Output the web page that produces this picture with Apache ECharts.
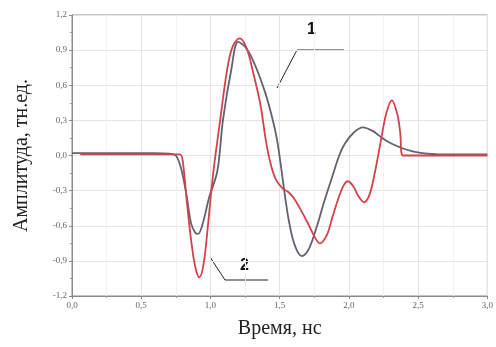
<!DOCTYPE html>
<html>
<head>
<meta charset="utf-8">
<script src="https://cdn.jsdelivr.net/npm/echarts@6/dist/echarts.min.js"></script>
<style>
  html, body { margin: 0; padding: 0; background: #fff; }
  #chart { width: 496px; height: 347px; }
</style>
</head>
<body>
<div id="chart"></div>
<script>
// curve 1 (gray)
const timeGray = [0.0, 0.3, 0.6, 0.7, 0.75, 0.79, 0.83, 0.86, 0.89, 0.91, 0.94, 0.99, 1.05, 1.09, 1.15, 1.20, 1.25, 1.30, 1.35, 1.40, 1.44, 1.48, 1.51, 1.54, 1.57, 1.61, 1.66, 1.71, 1.77, 1.82, 1.88, 1.93, 1.97, 2.03, 2.10, 2.17, 2.24, 2.31, 2.39, 2.46, 2.53, 2.65, 3.0];
const ampGray = [0.02, 0.02, 0.02, 0.015, 0.0, -0.12, -0.36, -0.58, -0.66, -0.67, -0.6, -0.36, -0.13, 0.30, 0.73, 0.97, 0.93, 0.83, 0.69, 0.52, 0.35, 0.14, -0.1, -0.36, -0.58, -0.77, -0.86, -0.8, -0.6, -0.4, -0.18, 0.0, 0.1, 0.19, 0.24, 0.21, 0.15, 0.1, 0.06, 0.035, 0.02, 0.01, 0.01];

// curve 2 (red)
const timeRed = [0.06, 0.3, 0.6, 0.78, 0.8, 0.83, 0.86, 0.89, 0.92, 0.95, 0.98, 1.02, 1.07, 1.12, 1.16, 1.21, 1.26, 1.31, 1.36, 1.40, 1.43, 1.47, 1.52, 1.56, 1.60, 1.65, 1.70, 1.75, 1.79, 1.84, 1.88, 1.92, 1.96, 1.99, 2.03, 2.07, 2.11, 2.15, 2.19, 2.23, 2.27, 2.31, 2.35, 2.37, 2.39, 2.45, 2.7, 3.0];
const ampRed = [0.01, 0.01, 0.01, 0.01, -0.05, -0.4, -0.72, -0.95, -1.04, -0.93, -0.62, -0.15, 0.30, 0.73, 0.93, 1.0, 0.92, 0.7, 0.44, 0.13, -0.05, -0.2, -0.28, -0.31, -0.36, -0.46, -0.57, -0.69, -0.75, -0.68, -0.53, -0.38, -0.26, -0.22, -0.26, -0.35, -0.40, -0.33, -0.13, 0.12, 0.36, 0.47, 0.35, 0.2, 0.0, 0.0, 0.0, 0.0];

const zip = (xs, ys) => xs.map((x, i) => [x, ys[i]]);
const fmt = v => v.toFixed(1).replace('.', ',').replace('-0,0', '0,0');

const chart = echarts.init(document.getElementById('chart'));

const tickLabel = {
  color: '#666',
  fontFamily: 'Liberation Serif',
  fontSize: 9,
  formatter: fmt
};

chart.setOption({
  animation: false,
  grid: {
    left: 72,
    right: 8,
    top: 15,
    bottom: 51,
    show: true,
    borderColor: '#8a8a8a',
    borderWidth: 1
  },
  xAxis: {
    type: 'value',
    min: 0,
    max: 3,
    interval: 0.5,
    name: 'Время, нс',
    nameLocation: 'middle',
    nameGap: 23,
    nameTextStyle: { fontFamily: 'Liberation Serif', fontSize: 20, color: '#222' },
    axisLine: { onZero: false, lineStyle: { color: '#8a8a8a' } },
    axisTick: { length: 3, lineStyle: { color: '#8a8a8a' } },
    minorTick: { show: true, splitNumber: 2, length: 2, lineStyle: { color: '#999' } },
    axisLabel: Object.assign({ margin: 5 }, tickLabel),
    splitLine: { show: true, lineStyle: { color: '#e4e4e4' } },
    minorSplitLine: { show: true, lineStyle: { color: '#f2f2f2' } }
  },
  yAxis: {
    type: 'value',
    min: -1.2,
    max: 1.2,
    interval: 0.3,
    name: 'Амплитуда, тн.ед.',
    nameLocation: 'middle',
    nameGap: 40,
    nameTextStyle: { fontFamily: 'Liberation Serif', fontSize: 20, color: '#222' },
    axisLine: { onZero: false, lineStyle: { color: '#8a8a8a' } },
    axisTick: { length: 3, lineStyle: { color: '#8a8a8a' } },
    minorTick: { show: true, splitNumber: 2, length: 2, lineStyle: { color: '#999' } },
    axisLabel: Object.assign({ margin: 5 }, tickLabel),
    splitLine: { show: true, lineStyle: { color: '#e4e4e4' } },
    minorSplitLine: { show: false }
  },
  series: [
    {
      name: '1',
      type: 'line',
      data: zip(timeGray, ampGray),
      smooth: 0.35,
      showSymbol: false,
      lineStyle: { color: '#5f6270', width: 1.8 }
    },
    {
      name: '2',
      type: 'line',
      data: zip(timeRed, ampRed),
      smooth: 0.35,
      showSymbol: false,
      lineStyle: { color: '#d3424c', width: 1.8 }
    }
  ],
  graphic: [
    // callout 1
    {
      type: 'polyline',
      shape: { points: [[277, 88], [297, 50], [344, 50]] },
      style: { stroke: '#222', lineWidth: 1, fill: null }
    },
    {
      type: 'text',
      left: 307,
      top: 22,
      style: { text: '1', font: 'bold 16px "Liberation Sans"', fill: '#111' }
    },
    // callout 2
    {
      type: 'polyline',
      shape: { points: [[210, 257], [225, 280], [268, 280]] },
      style: { stroke: '#222', lineWidth: 1, fill: null }
    },
    {
      type: 'text',
      left: 240,
      top: 258,
      style: { text: '2', font: 'bold 16px "Liberation Sans"', fill: '#111' }
    }
  ]
});
</script>
</body>
</html>
